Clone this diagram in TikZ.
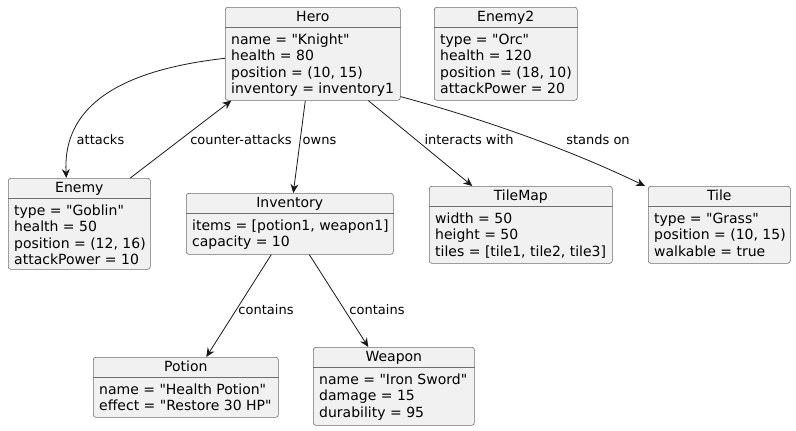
\documentclass[tikz,border=0pt]{standalone}
\usepackage{fontspec}
\setmainfont{DejaVu Sans}[Ligatures=TeXOff]
\usetikzlibrary{arrows.meta}
\definecolor{boxfill}{HTML}{F1F1F1}
\definecolor{boxline}{HTML}{181818}
\definecolor{boxedge}{HTML}{6E6E6E}
\tikzset{
  objbox/.style={draw=boxedge, fill=boxfill, line width=0.6pt, rounded corners=2.5pt, anchor=north west, inner sep=0pt},
  objtitle/.style={font=\fontsize{14}{16}\selectfont, anchor=base, inner sep=0pt},
  objattr/.style={font=\fontsize{14}{16.4}\selectfont, align=left, anchor=north west, inner sep=0pt},
  sepline/.style={draw=boxedge, line width=0.6pt},
  link/.style={draw=boxline, line width=0.8pt, -{Stealth[length=9pt,width=8pt,inset=3pt]}},
  linklabel/.style={font=\fontsize{13}{15}\selectfont, anchor=base, inner sep=0pt},
}
\newcommand{\umlobj}[7]{%
  \node[objbox, minimum width=#4, minimum height=#5] (#1) at (#2,#3) {};
  \draw[sepline] ([yshift=-20pt]#1.north west) -- ([yshift=-20pt]#1.north east);
  \node[objtitle] (#1-title) at ([yshift=-14.7pt]#1.north) {#6};
  \node[objattr] (#1-attrs) at ([xshift=6pt,yshift=-25.5pt]#1.north west) {\rule{0pt}{11.5pt}#7};
}
\begin{document}
\begin{tikzpicture}[x=1pt,y=-1pt]
\useasboundingbox (0,0) rectangle (796,431);
\umlobj{hero}{225}{7}{175}{93}{Hero}{name = "Knight"\\health = 80\\position = (10, 15)\\inventory = inventory1}
\umlobj{enemy2}{434}{7}{143}{93}{Enemy2}{type = "Orc"\\health = 120\\position = (18, 10)\\attackPower = 20}
\umlobj{enemy}{8}{178}{142}{91}{Enemy}{type = "Goblin"\\health = 50\\position = (12, 16)\\attackPower = 10}
\umlobj{inv}{186}{193}{207}{61}{Inventory}{items = [potion1, weapon1]\\capacity = 10}
\umlobj{tilemap}{429}{186}{183}{77}{TileMap}{width = 50\\height = 50\\tiles = [tile1, tile2, tile3]}
\umlobj{tile}{648}{186}{142}{77}{Tile}{type = "Grass"\\position = (10, 15)\\walkable = true}
\umlobj{potion}{93}{357}{185}{60}{Potion}{name = "Health Potion"\\effect = "Restore 30 HP"}
\umlobj{weapon}{313}{347}{161}{78}{Weapon}{name = "Iron Sword"\\damage = 15\\durability = 95}

\draw[link] ([yshift=-4.5pt]hero.west) .. controls +(-125,14) and +(-3,-60) .. ([xshift=-13pt]enemy.north);
\draw[link] ([xshift=51pt]enemy.north) -- ([xshift=-81.5pt]hero.south);
\draw[link] ([xshift=-7.5pt]hero.south) -- ([xshift=3.5pt]inv.north);
\draw[link] ([xshift=55.5pt]hero.south) -- ([xshift=-48.5pt]tilemap.north);
\draw[link] ([yshift=4pt]hero.south east) .. controls +(70,19) and +(-85,-41) .. ([xshift=-3pt]tile.north west);
\draw[link] ([xshift=-18.5pt]inv.south) -- ([xshift=20.5pt]potion.north);
\draw[link] ([xshift=19.5pt]inv.south) -- ([xshift=-25.5pt]weapon.north);

\node[linklabel] (lab-attacks) at (100.5,144) {attacks};
\node[linklabel] (lab-counter) at (241,144) {counter-attacks};
\node[linklabel] (lab-owns) at (319.5,144) {owns};
\node[linklabel] (lab-interacts) at (469,144) {interacts with};
\node[linklabel] (lab-stands) at (598,144) {stands on};
\node[linklabel] (lab-contains1) at (266,314) {contains};
\node[linklabel] (lab-contains2) at (377,314) {contains};
\end{tikzpicture}
\end{document}
